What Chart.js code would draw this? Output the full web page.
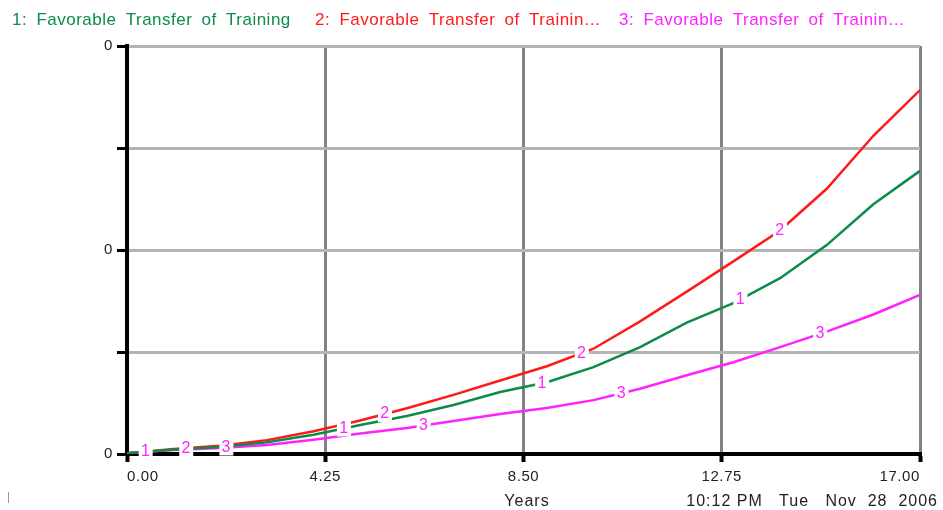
<!DOCTYPE html>
<html>
<head>
<meta charset="utf-8">
<script src="https://cdn.jsdelivr.net/npm/chart.js@4"></script>
<style>
  html, body { margin: 0; padding: 0; background: #fff; }
  #wrap { width: 943px; height: 510px; }
</style>
</head>
<body>
<div id="wrap"><canvas id="canvas-sim" width="943" height="510"></canvas></div>
<script>
// values (y in plot units, 0 = bottom, 1 = top)
const years = [0, 1, 2, 3, 4, 5, 6, 7, 8, 9, 10, 11, 12, 13, 14, 15, 16, 17];
const transfer1 = [0.002, 0.011, 0.017, 0.029, 0.047, 0.071, 0.093, 0.120, 0.152, 0.176, 0.213, 0.262, 0.322, 0.370, 0.431, 0.512, 0.612, 0.694];
const transfer2 = [0.002, 0.012, 0.020, 0.034, 0.056, 0.082, 0.112, 0.145, 0.180, 0.215, 0.258, 0.325, 0.398, 0.472, 0.548, 0.650, 0.780, 0.892];
const transfer3 = [0.002, 0.010, 0.015, 0.022, 0.035, 0.050, 0.064, 0.081, 0.098, 0.113, 0.132, 0.160, 0.193, 0.225, 0.262, 0.300, 0.342, 0.390];
const seriesNames = ['1: Favorable Transfer of Training', '2: Favorable Transfer of Trainin\u2026', '3: Favorable Transfer of Trainin\u2026'];
const seriesColors = ['#0c8c48', '#ff1a1a', '#ff22ff'];
const markerYears = [[0.4, 4.65, 8.9, 13.15], [1.27, 5.53, 9.75, 14.0], [2.13, 6.36, 10.6, 14.86]];
const xTickLabels = ['0.00', '4.25', '8.50', '12.75', '17.00'];
const yTickLabels = ['0', '', '0', '', '0'];
const unitsLabel = 'Years';
const stampLabel = '10:12 PM   Tue   Nov  28  2006';

const FONT = '"Liberation Sans", Arial, sans-serif';

function valueAt(arr, t) {
  for (let i = 0; i < years.length - 1; i++) {
    if (t >= years[i] && t <= years[i + 1]) {
      const f = (t - years[i]) / (years[i + 1] - years[i]);
      return arr[i] + f * (arr[i + 1] - arr[i]);
    }
  }
  return arr[arr.length - 1];
}

const vensimDecor = {
  id: 'vensimDecor',
  beforeDraw(chart) {
    chart.ctx.letterSpacing = '0.6px';
  },
  afterDatasetsDraw(chart) {
    const ctx = chart.ctx;
    const xs = chart.scales.x, ys = chart.scales.y;
    const all = [transfer1, transfer2, transfer3];
    ctx.save();
    ctx.font = '16px ' + FONT;
    ctx.textAlign = 'center';
    ctx.textBaseline = 'middle';
    all.forEach((arr, s) => {
      markerYears[s].forEach(t => {
        const px = xs.getPixelForValue(t);
        const py = ys.getPixelForValue(valueAt(arr, t));
        ctx.fillStyle = '#fff';
        ctx.fillRect(px - 7, py - 8, 14, 16);
        ctx.fillStyle = seriesColors[2];
        ctx.fillText(String(s + 1), px, py);
      });
    });
    ctx.restore();
  },
  afterDraw(chart) {
    const ctx = chart.ctx;
    ctx.save();
    ctx.letterSpacing = '0.5px';
    ctx.wordSpacing = '4px';
    ctx.font = '17px ' + FONT;
    ctx.textBaseline = 'alphabetic';
    ctx.textAlign = 'left';
    const starts = [12, 315, 619];
    seriesNames.forEach((name, i) => {
      ctx.fillStyle = seriesColors[i];
      ctx.fillText(name, starts[i], 25);
    });
    ctx.fillStyle = '#222';
    ctx.font = '16px ' + FONT;
    ctx.letterSpacing = '1px';
    ctx.wordSpacing = '0px';
    ctx.textBaseline = 'top';
    ctx.textAlign = 'center';
    ctx.fillText(unitsLabel, 527, 494);
    ctx.textAlign = 'right';
    ctx.fillText(stampLabel, 938, 494);
    ctx.fillStyle = '#999';
    ctx.fillRect(8, 492, 1, 11);
    ctx.restore();
  }
};

const ctx = document.getElementById('canvas-sim').getContext('2d');
new Chart(ctx, {
  type: 'line',
  data: {
    datasets: [transfer1, transfer2, transfer3].map((arr, i) => ({
      label: seriesNames[i],
      data: years.map((t, j) => ({ x: t, y: arr[j] })),
      borderColor: seriesColors[i],
      borderWidth: 2.5,
      pointRadius: 0,
      tension: 0,
      fill: false
    }))
  },
  options: {
    responsive: false,
    animation: false,
    layout: { padding: { left: 0, right: 23, top: 46, bottom: 0 } },
    plugins: { legend: { display: false }, tooltip: { enabled: false } },
    scales: {
      x: {
        type: 'linear',
        min: 0,
        max: 17,
        afterFit(scale) { scale.height = 56; },
        afterBuildTicks(scale) {
          scale.ticks = xTickLabels.map(l => ({ value: parseFloat(l) }));
        },
        ticks: {
          color: '#222',
          font: { family: FONT, size: 15 },
          padding: 6,
          maxRotation: 0,
          autoSkip: false,
          align: 'inner',
          callback: (v, i) => xTickLabels[i]
        },
        grid: {
          color: c => (c.index === 0 ? 'rgba(0,0,0,0)' : '#828282'),
          lineWidth: 3,
          tickColor: '#000',
          tickWidth: 4,
          tickLength: 8
        },
        border: { color: '#000', width: 4 }
      },
      y: {
        min: 0,
        max: 1,
        afterFit(scale) { scale.width = 127; },
        afterBuildTicks(scale) {
          scale.ticks = yTickLabels.map((l, i) => ({ value: i / (yTickLabels.length - 1) }));
        },
        ticks: {
          color: '#222',
          font: { family: FONT, size: 15 },
          padding: 4,
          autoSkip: false,
          callback: (v, i) => yTickLabels[i]
        },
        grid: {
          color: c => (c.index === 0 ? 'rgba(0,0,0,0)' : '#b4b4b4'),
          lineWidth: 3,
          tickColor: '#000',
          tickWidth: 3,
          tickLength: 10
        },
        border: { color: '#000', width: 4 }
      }
    }
  },
  plugins: [vensimDecor]
});
</script>
</body>
</html>
